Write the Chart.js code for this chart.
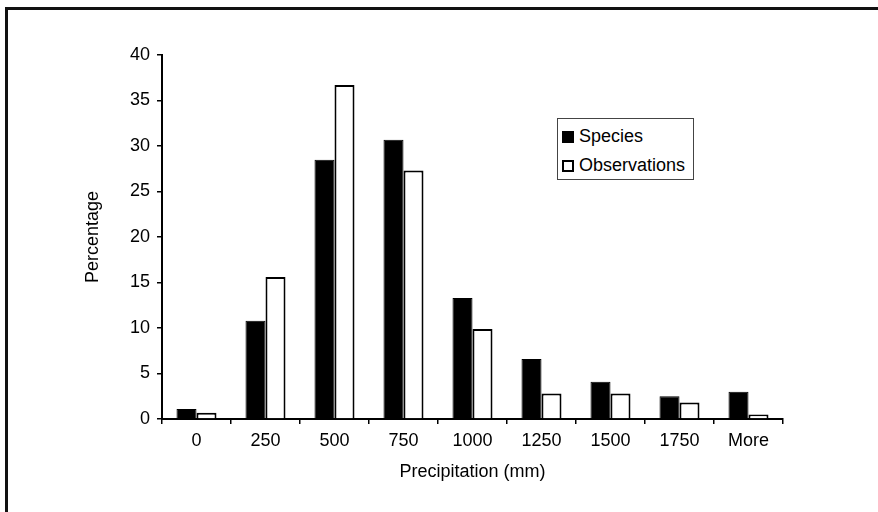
<!DOCTYPE html>
<html>
<head>
<meta charset="utf-8">
<script src="https://cdn.jsdelivr.net/npm/chart.js@4.4.1/dist/chart.umd.min.js"></script>
<style>
  html, body { margin: 0; padding: 0; background: #fff; }
  #wrap { position: relative; width: 878px; height: 512px; overflow: hidden; }
  #frame {
    position: absolute; left: 5px; top: 7px; width: 1000px; height: 700px;
    border-left: 3px solid #111; border-top: 3px solid #111;
  }
  #legend {
    position: absolute; left: 557px; top: 118px; width: 135px; height: 60px;
    border: 1px solid #444; background: #fff;
    font-family: "Liberation Sans", Arial, sans-serif; font-size: 18px; color: #000;
  }
  #legend .row { position: absolute; left: 4px; height: 20px; line-height: 20px; white-space: nowrap; }
  #legend .box { display: inline-block; width: 12px; height: 12px; box-sizing: border-box; vertical-align: -1px; margin-right: 5px; }
  canvas { position: absolute; left: 0; top: 0; }
</style>
</head>
<body>
<div id="wrap">
  <div id="frame"></div>
  <canvas id="chart" width="878" height="512"></canvas>
  <div id="legend"></div>
</div>
<script>
// histogram bins (mm)
const categories = ['0', '250', '500', '750', '1000', '1250', '1500', '1750', 'More'];
const speciesPct = [1.1, 10.8, 28.5, 30.7, 13.3, 6.6, 4.1, 2.5, 3.0];
const observationsPct = [0.7, 15.6, 36.7, 27.3, 9.9, 2.8, 2.8, 1.8, 0.5];
const yTicks = [0, 5, 10, 15, 20, 25, 30, 35, 40];

const FONT = { family: '"Liberation Sans", Arial, sans-serif', size: 18 };

const series = [
  { label: 'Species', data: speciesPct, fill: '#000', border: '#000', width: 1 },
  { label: 'Observations', data: observationsPct, fill: '#fff', border: '#000', width: 2 }
];

new Chart(document.getElementById('chart'), {
  type: 'bar',
  data: {
    labels: categories,
    datasets: series.map(s => ({
      label: s.label,
      data: s.data,
      backgroundColor: s.fill,
      borderColor: s.border,
      borderWidth: s.width,
      categoryPercentage: 0.58,
      barPercentage: 1.0
    }))
  },
  options: {
    responsive: false,
    animation: false,
    layout: { padding: { left: 78, right: 95, top: 55, bottom: 25 } },
    plugins: { legend: { display: false }, tooltip: { enabled: false } },
    scales: {
      x: {
        grid: { drawOnChartArea: false, tickLength: 5, color: '#000', lineWidth: 1.5, offset: true },
        border: { color: '#000', width: 2 },
        ticks: { color: '#000', font: FONT, padding: 6, maxRotation: 0 },
        title: { display: true, text: 'Precipitation (mm)', color: '#000', font: FONT, padding: 4 },
        afterFit: s => { s.height = 68; }
      },
      y: {
        min: 0,
        max: 40,
        afterBuildTicks: s => { s.ticks = yTicks.map(v => ({ value: v })); },
        grid: { drawOnChartArea: false, tickLength: 5, color: '#000', lineWidth: 1.5 },
        border: { color: '#000', width: 2 },
        ticks: { color: '#000', font: FONT, padding: 7 },
        title: { display: true, text: 'Percentage', color: '#000', font: FONT, padding: 4 },
        afterFit: s => { s.width = 84; }
      }
    }
  }
});

// legend drawn as html, boxed like the original
const legend = document.getElementById('legend');
series.forEach((s, i) => {
  const row = document.createElement('div');
  row.className = 'row';
  row.style.top = (7 + i * 29) + 'px';
  const box = document.createElement('span');
  box.className = 'box';
  box.style.background = s.fill;
  box.style.border = s.width + 'px solid ' + s.border;
  row.appendChild(box);
  row.appendChild(document.createTextNode(s.label));
  legend.appendChild(row);
});
</script>
</body>
</html>
